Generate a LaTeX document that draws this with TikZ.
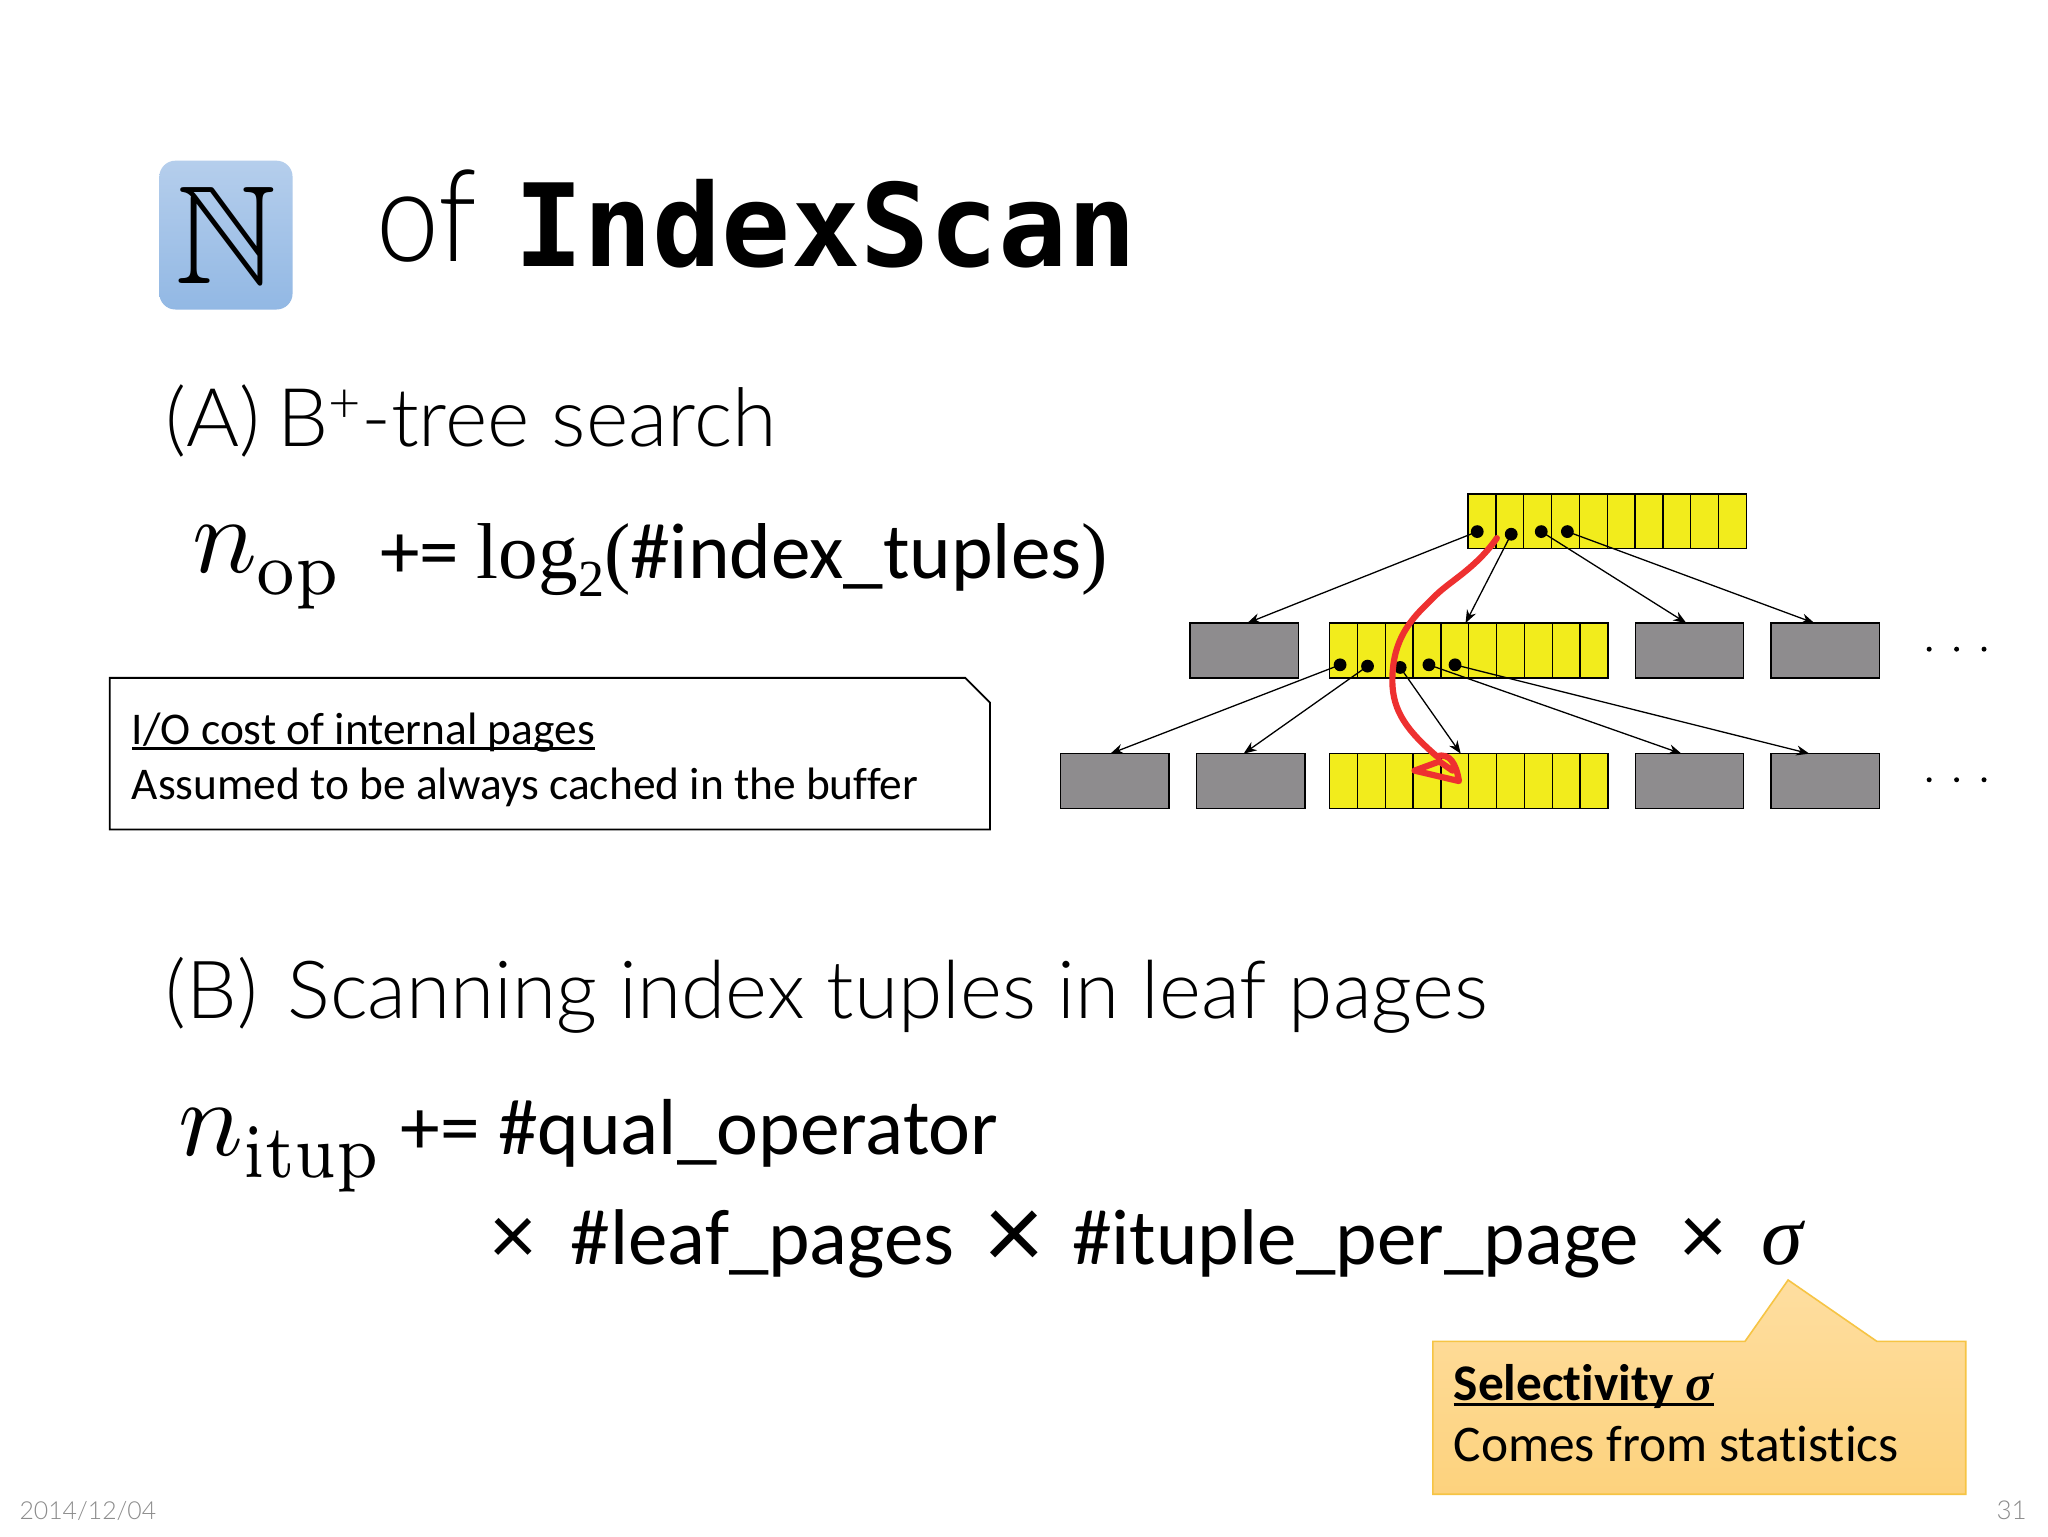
\documentclass[tikz,border=0pt]{standalone}
\usepackage{amssymb}
\usepackage{graphicx}
\usepackage[no-math]{fontspec}
\setmainfont{Carlito}[Ligatures=NoCommon]
\newfontfamily\lightf{Lato Light}
\newfontfamily\monob[BoldFont={DejaVu Sans Mono Bold}]{DejaVu Sans Mono}
\newfontfamily\serf{Liberation Serif}
\newcommand{\fsz}[1]{\fontsize{#1}{#1}\selectfont}
\newsavebox{\ulbox}
\newcommand{\ulin}[1]{\sbox{\ulbox}{#1}\rlap{\rule[-0.12em]{\wd\ulbox}{0.065em}}\usebox{\ulbox}}
\usetikzlibrary{calc,shapes.geometric,arrows.meta}
\definecolor{cellyellow}{HTML}{F2EC1C}
\definecolor{pagegray}{HTML}{8E8C8E}
\definecolor{redink}{HTML}{EE3030}
\definecolor{callborder}{HTML}{F6C444}
\definecolor{footgray}{HTML}{8C8C8C}
\tikzset{
 x=0.653061pt,y=-0.653061pt,
 txt/.style={anchor=base west,inner sep=0pt,outer sep=0pt,text=black},
 ypage/.style={draw=black,line width=0.75pt,fill=cellyellow,minimum width=139.1pt,minimum height=27.4pt,inner sep=0pt,outer sep=0pt},
 gpage/.style={draw=black,line width=0.75pt,fill=pagegray,minimum width=54.2pt,minimum height=27.4pt,inner sep=0pt,outer sep=0pt},
 ptr/.style={circle,fill=black,inner sep=0pt,minimum size=6.4pt},
 link/.style={draw=black,line width=0.65pt,-{Stealth[length=6.5pt,width=5pt]}},
 moredot/.style={circle,fill=black,inner sep=0pt,minimum size=2.5pt},
}
\newcommand{\cells}[1]{\foreach \k in {1,...,9}{\draw[line width=0.65pt] ($(#1.north west)!\k/10!(#1.north east)$) -- ($(#1.south west)!\k/10!(#1.south east)$);}}
\begin{document}
\begin{tikzpicture}
\useasboundingbox (0,0) rectangle (1568,1176);
\fill[white] (0,0) rectangle (1568,1176);
% title
\node[rounded corners=8pt,minimum width=66.6pt,minimum height=74.4pt,top color={rgb,255:red,181;green,206;blue,236},bottom color={rgb,255:red,146;green,184;blue,228},inner sep=0pt] (icon) at (173,180) {};
\node[inner sep=0pt,scale=7.0] (icontxt) at (173,180) {$\mathbb{N}$};
\node[txt,xscale=0.88] (of) at (288,200) {\lightf\fsz{64}of};
\node[txt] (title) at (394,204) {\monob\bfseries\fsz{57.4}IndexScan};
% section A
\node[txt] (secA) at (127,342) {\lightf\fsz{40.5}(A)\kern-2.6pt{} B\raisebox{0.3em}{\fsz{28}+}-tree search};
\node[txt,scale=5.4] (nop) at (147,438) {$n$\raisebox{-2.1pt}{\scalebox{0.9}[1]{$\scriptstyle\mathrm{op}$}}};
\node[txt] (formA) at (291,443) {\fsz{39.6}+= {\serf log\raisebox{-0.22em}{\fsz{26}2}(}\#index\_tuples{\serf )}};
% note
\draw[black,line width=0.9pt,fill=white] (84,519) -- (739,519) -- (758,538) -- (758,635) -- (84,635) -- cycle;
\node[txt] (noteA) at (101,570) {\fsz{22.7}\ulin{I/O cost of internal pages}};
\node[txt] (noteB) at (101,612) {\fsz{22.7}Assumed to be always cached in the buffer};
% tree
\node[ypage] (root) at (1230.5,399) {};
\node[gpage] (g1) at (952.5,498) {};
\node[ypage] (mid) at (1124.5,498) {};
\node[gpage] (g2) at (1293.5,498) {};
\node[gpage] (g3) at (1397.5,498) {};
\node[gpage] (l1) at (853.5,598) {};
\node[gpage] (l2) at (957.5,598) {};
\node[ypage] (leaf) at (1124.5,598) {};
\node[gpage] (l3) at (1293.5,598) {};
\node[gpage] (l4) at (1397.5,598) {};
\cells{root}\cells{mid}\cells{leaf}
\node[ptr] (a1) at (1131,407) {};
\node[ptr] (a2) at (1157,409) {};
\node[ptr] (a3) at (1180,407) {};
\node[ptr] (a4) at (1200,407) {};
\node[ptr] (b1) at (1026,509) {};
\node[ptr] (b2) at (1047,510) {};
\node[ptr] (b3) at (1072,511) {};
\node[ptr] (b4) at (1094,509) {};
\node[ptr] (b5) at (1114,509) {};
\draw[link] (a1.center) -- ([xshift=1.6pt]g1.north);
\draw[link] (a2.center) -- ([xshift=-1.6pt]mid.north);
\draw[link] (a3.center) -- ([xshift=-1.6pt]g2.north);
\draw[link] (a4.center) -- ([xshift=-5.5pt]g3.north);
\draw[link] (b1.center) -- ([xshift=-2.2pt]l1.north);
\draw[link] (b2.center) -- ([xshift=-3.5pt]l2.north);
\draw[link] (b3.center) -- ([xshift=-4pt]leaf.north);
\draw[link] (b4.center) -- ([xshift=-4pt]l3.north);
\draw[link] (b5.center) -- ([xshift=-8pt]l4.north);
\foreach \n/\yy in {t/497,b/597}{
 \node[moredot] (\n1) at (1477,\yy) {};
 \node[moredot] (\n2) at (1498,\yy) {};
 \node[moredot] (\n3) at (1519,\yy) {};
}
% red scribble
\draw[redink,line width=3.1pt,line cap=round,line join=round] (1146,412) .. controls (1130,435) and (1110,445) .. (1099,456) .. controls (1085,470) and (1066,485) .. (1066,521) .. controls (1066,545) and (1078,560) .. (1100,579) .. controls (1110,576) and (1115,585) .. (1117,598) -- (1083,590) -- (1102,583) -- (1112,590);
% section B
\node[txt] (secB) at (127,780) {\lightf\fsz{40.1}(B)\kern3.9pt{} Scanning index tuples in leaf pages};
\node[txt,scale=5.4] (nit) at (137,885) {$n$\raisebox{-2pt}{\scalebox{0.88}[1]{$\scriptstyle\mathrm{itup}$}}};
\node[txt] (formB) at (307,884) {\fsz{39.7}+= \#qual\_operator};
\node[txt] (x1) at (376,968) {\fsz{44}×};
\node[txt] (leafp) at (437,968) {\fsz{39.5}\#leaf\_pages};
\node[txt] (x2) at (755,972) {\fsz{56}×};
\node[txt] (itup) at (821,968) {\fsz{39.5}\#ituple\_per\_page};
\node[txt] (x3) at (1287,968) {\fsz{44}×};
\node[txt] (sig) at (1349,968) {\serf\itshape\fsz{42}σ};
% callout
\draw[callborder,line width=0.8pt,top color={rgb,255:red,254;green,222;blue,160},bottom color={rgb,255:red,253;green,210;blue,125}] (1097,1027) -- (1336,1027) -- (1369,980) -- (1437,1027) -- (1505,1027) -- (1505,1144) -- (1097,1144) -- cycle;
\node[txt] (selA) at (1113,1072) {\fsz{25.7}\ulin{\textbf{Selectivity {\serf\itshape σ}}}};
\node[txt] (selB) at (1113,1119) {\fsz{25.7}Comes from statistics};
% footer
\node[txt,text=footgray] (date) at (15,1163) {\lightf\fsz{12.4}2014/12/04};
\node[anchor=base east,inner sep=0pt,text=footgray] (num) at (1552,1163) {\lightf\fsz{13}31};
\end{tikzpicture}
\end{document}
